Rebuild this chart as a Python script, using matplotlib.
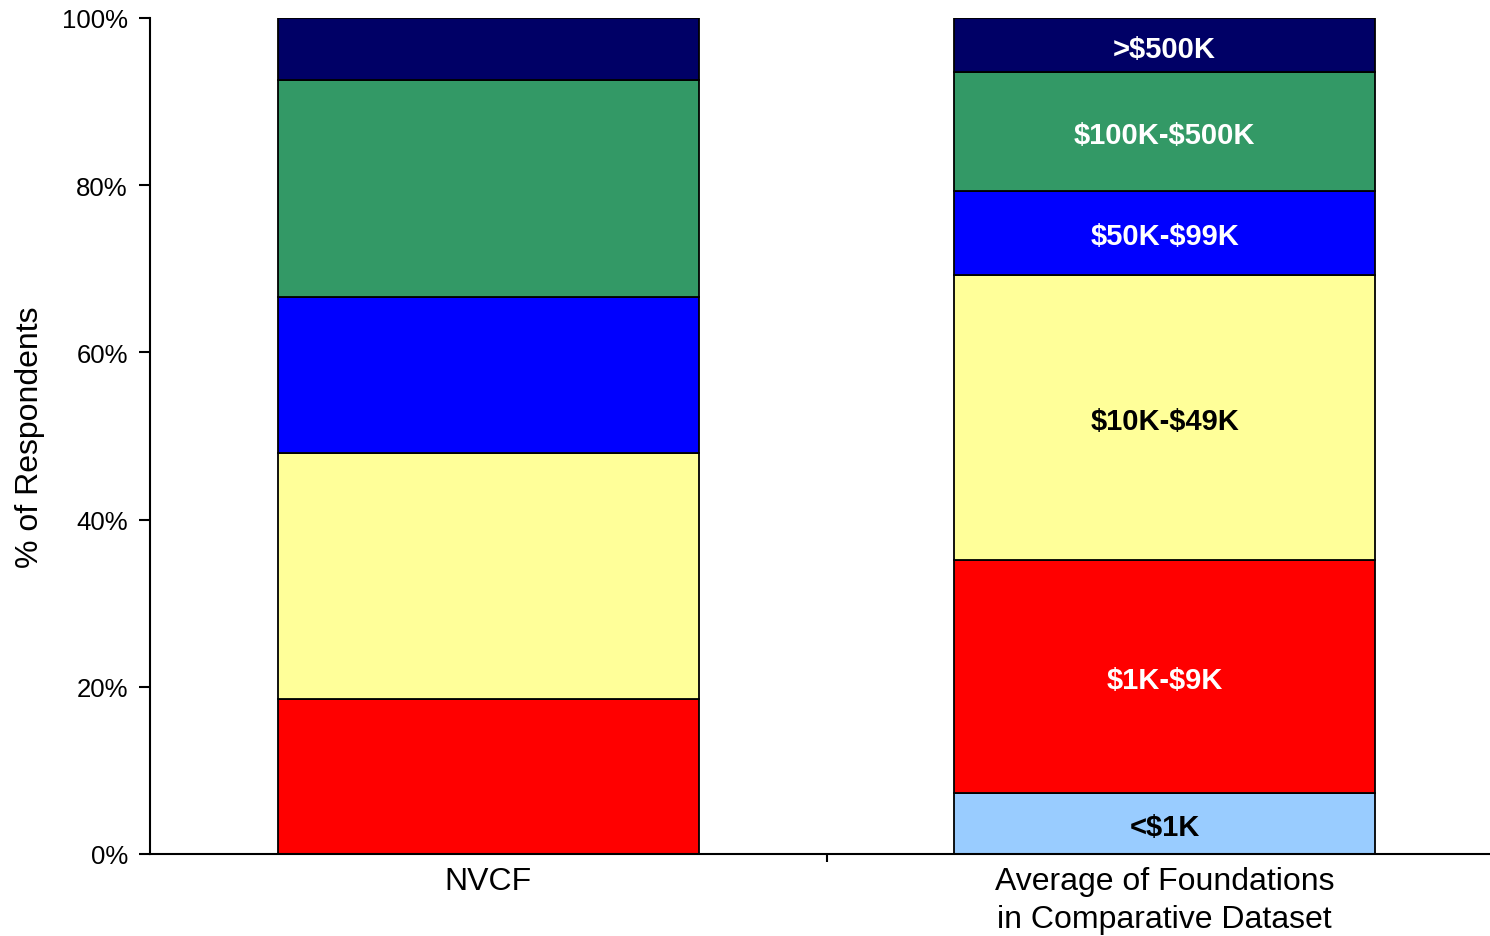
import matplotlib
matplotlib.use("Agg")
import matplotlib.pyplot as plt
import numpy as np

plt.rcParams['font.family'] = ['Liberation Sans', 'DejaVu Sans']

categories = ["NVCF", "Average of Foundations\nin Comparative Dataset"]
series_names = ["<\\$1K", "\\$1K-\\$9K", "\\$10K-\\$49K", "\\$50K-\\$99K", "\\$100K-\\$500K", ">\\$500K"]
nvcf = [0.0, 18.5, 29.5, 18.6, 26.0, 7.4]
average = [7.3, 27.9, 34.1, 10.0, 14.2, 6.5]
colors = ["#99CCFF", "#FF0000", "#FFFF99", "#0000FF", "#339966", "#000066"]
label_colors = ["black", "white", "black", "white", "white", "white"]

fig = plt.figure(figsize=(14.9, 9.37), dpi=100)
ax = fig.add_axes([150/1490, (937-855)/937, 1353/1490, (855-19)/937])

x = np.arange(len(categories))
bottoms = np.zeros(len(categories))
for i, name in enumerate(series_names):
    vals = np.array([nvcf[i], average[i]])
    ax.bar(x, vals, bottom=bottoms, width=0.623, color=colors[i],
           edgecolor="black", linewidth=1.3)
    if average[i] > 0:
        ax.annotate(name, xy=(x[1], bottoms[1] + average[i] / 2),
                    xytext=(0, -2.5), textcoords="offset points",
                    ha="center", va="center",
                    color=label_colors[i], fontsize=21, fontweight="bold")
    bottoms += vals

ax.set_xlim(-0.5, 1.5)
ax.set_ylim(0, 100)
ax.set_yticks([0, 20, 40, 60, 80, 100])
ax.set_yticklabels([f"{v}%" for v in [0, 20, 40, 60, 80, 100]], fontsize=18.5)
ax.set_xticks([0.5])
ax.set_xticklabels([""])
ax.tick_params(axis="y", direction="out", length=8, width=1.5, pad=8)
ax.tick_params(axis="x", direction="out", length=6, width=1.5)
for i, c in enumerate(categories):
    ax.annotate(c, xy=(x[i], 0), xycoords=("data", "axes fraction"),
                xytext=(0, -8.5), textcoords="offset points",
                ha="center", va="top", fontsize=23, linespacing=1.35)
ax.set_ylabel("% of Respondents", fontsize=23, labelpad=12)
ax.spines["top"].set_visible(False)
ax.spines["right"].set_visible(False)
ax.spines["left"].set_linewidth(1.5)
ax.spines["bottom"].set_linewidth(1.5)

fig.savefig("out.png", dpi=100)
